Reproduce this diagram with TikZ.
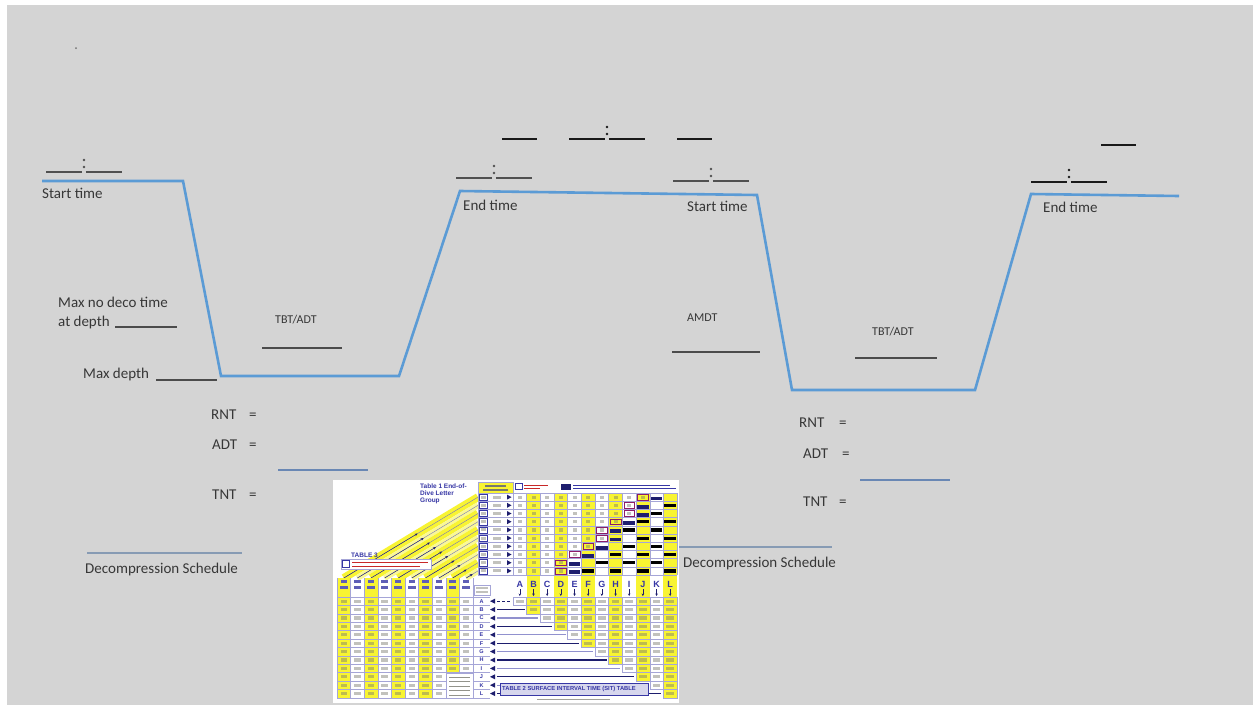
\documentclass[tikz,border=0pt]{standalone}
\usepackage{fontspec}
\setmainfont{Carlito}
\newfontfamily\tabfont{Liberation Sans}
\usetikzlibrary{arrows.meta,calc}
\definecolor{bggrey}{RGB}{212,212,212}
\definecolor{profblue}{RGB}{91,155,213}
\definecolor{txtgrey}{RGB}{55,55,55}
\definecolor{ulgrey}{RGB}{75,75,75}
\definecolor{blueline}{RGB}{105,135,180}
\definecolor{decline}{RGB}{135,155,180}
\definecolor{markgrey}{RGB}{80,80,80}
\definecolor{markdark}{RGB}{25,25,25}
\definecolor{tyellow}{RGB}{248,244,50}
\definecolor{tyellowl}{RGB}{250,248,150}
\definecolor{tnavy}{RGB}{30,30,110}
\definecolor{tblue}{RGB}{55,55,165}
\definecolor{tgrid}{RGB}{165,165,215}
\definecolor{tdigit}{RGB}{120,120,110}
\definecolor{tred}{RGB}{200,40,40}
\tikzset{
  tmark/.pic={
    \draw[line width=2.4pt] (-38,0) -- (-1.8,0);
    \draw[line width=2.4pt] (1.8,0) -- (38,0);
    \fill (0,-12) circle (1.3pt);
    \fill (0,-5) circle (1.3pt);
  }
}
\begin{document}
\begin{tikzpicture}[x=1pt,y=-1pt,
  lbl/.style={anchor=base west,inner sep=0pt,text=txtgrey,font=\fontsize{15}{18}\selectfont},
  slbl/.style={lbl,font=\fontsize{12}{14}\selectfont},
  mlbl/.style={lbl,font=\fontsize{15}{17}\selectfont},
  uline/.style={draw=ulgrey,line width=1.1pt},
  aline/.style={draw=blueline,line width=1.8pt},
  dline/.style={draw=decline,line width=1.6pt},
  profile/.style={draw=profblue,line width=2.6pt,line join=miter},
  tmdark/.style={draw=markdark,line width=1.8pt},
  tgridl/.style={draw=tgrid,line width=0.4pt},
  tlab/.style={inner sep=0pt,text=tblue,font=\tabfont\bfseries\fontsize{6.5}{7}\selectfont},
  dig/.style={fill=tdigit,fill opacity=0.45},
]
% background
\path[use as bounding box] (0,0) rectangle (1253,705);
\fill[white] (0,0) rectangle (1253,705);
\fill[bggrey] (7,5) rectangle (1253,705);
\fill[markgrey!80] (76,48) circle (1pt);

% dive profile
\draw[profile] (42,181) -- (183,181) -- (221,376) -- (399,376) -- (460,191)
  -- (757,195) -- (792,390) -- (975,390) -- (1031,194) -- (1179,196);

% time marks
\pic[color=markgrey] at (84,172) {tmark};
\pic[color=markgrey] at (494,178) {tmark};
\pic[color=markdark] at (607,139) {tmark};
\pic[color=markgrey] at (711,181) {tmark};
\pic[color=markdark] at (1069,182) {tmark};
\draw[tmdark] (502,139) -- (537,139);
\draw[tmdark] (677,139) -- (712,139);
\draw[tmdark] (1101,145) -- (1136,145);

% labels, first dive
\node[lbl] (st1) at (42,198) {Start time};
\node[lbl] (et1) at (463,210) {End time};
\node[lbl] (st2) at (687,211) {Start time};
\node[lbl] (et2) at (1043,212) {End time};
\node[lbl] (mnd) at (58,307) {Max no deco time};
\node[lbl] (atd) at (58,326) {at depth};
\draw[uline] (115,327) -- (177,327);
\node[lbl] (mxd) at (83,378) {Max depth};
\draw[uline] (156,380) -- (217,380);
\node[slbl] (tbt1) at (275,323) {TBT/ADT};
\draw[uline] (262,348) -- (342,348);
\node[mlbl] (rnt1) at (211,419) {RNT};
\node[mlbl] (eqa) at (249,419) {=};
\node[mlbl] (adt1) at (212,449) {ADT};
\node[mlbl] (eqb) at (249,449) {=};
\draw[aline] (278,470) -- (368,470);
\node[mlbl] (tnt1) at (212,499) {TNT};
\node[mlbl] (eqc) at (249,499) {=};
\draw[dline] (87,553) -- (242,553);
\node[lbl] (dec1) at (85,573) {Decompression Schedule};

% labels, second dive
\node[slbl] (amdt) at (687,321) {AMDT};
\draw[uline] (672,352) -- (760,352);
\node[slbl] (tbt2) at (872,335) {TBT/ADT};
\draw[uline] (855,358) -- (937,358);
\node[mlbl] (rnt2) at (799,427) {RNT};
\node[mlbl] (eqd) at (839,427) {=};
\node[mlbl] (adt2) at (803,458) {ADT};
\node[mlbl] (eqe) at (842,458) {=};
\draw[aline] (860,480) -- (950,480);
\node[mlbl] (tnt2) at (803,506) {TNT};
\node[mlbl] (eqf) at (839,506) {=};
\draw[dline] (677,547) -- (832,547);
\node[lbl] (dec2) at (683,567) {Decompression Schedule};

% ================= dive table picture =================
\fill[white] (333,480) rectangle (679,703);

% diagonal bands (Table 3 links)
\foreach \i in {0,...,9}{
  \pgfmathsetmacro\xs{343.8+13.6*\i}
  \pgfmathsetmacro\ye{497.1+8.2*\i}
  \ifodd\i\relax
    \draw[tyellowl,line width=6pt] (\xs,578) -- (478,\ye);
  \else
    \draw[tyellow,line width=8pt] (\xs,578) -- (478,\ye);
  \fi
  \draw[tblue!70,line width=0.4pt] (\xs,578) -- (478,\ye);
  \draw[tnavy,line width=0.4pt,-{Stealth[length=3pt,width=2.5pt]}] (\xs,578) -- ($(\xs,578)!0.55!(478,\ye)$);
}

% Table 1 title
\node[tlab,anchor=north west,align=left] (t1lab) at (420,484) {Table 1 End-of-\\Dive Letter\\Group};
% header + legend
\fill[tyellow] (478,482) rectangle (513,493);
\draw[tgridl] (478,482) rectangle (513,493);
\fill[tdigit] (485,485) rectangle (506,486.5);
\fill[tdigit] (483,489) rectangle (508,490.5);
\draw[tblue,line width=0.6pt] (515,483.5) rectangle (522,489.5);
\draw[tred,line width=0.8pt] (524,485) -- (548,485);
\draw[tred,line width=0.8pt] (524,488.5) -- (540,488.5);
\fill[tnavy] (561,483.5) rectangle (571,489.5);
\draw[tblue,line width=0.7pt] (573,485) -- (670,485);
\draw[tblue,line width=0.7pt] (573,488.5) -- (676,488.5);

% depth column
\foreach \r in {0,...,9}{
  \pgfmathsetmacro\ya{493+8.2*\r}
  \pgfmathsetmacro\yc{\ya+4.1}
  \draw[tgridl] (478,\ya) rectangle (513,\ya+8.2);
  \draw[tblue,line width=0.5pt] (479.5,\ya+1) rectangle (487.5,\ya+7.2);
  \fill[dig] (481,\yc-1.5) rectangle (486,\yc+1.5);
  \fill[dig] (493,\yc-1.5) rectangle (501,\yc+1.5);
  \fill[tnavy] (507,\yc-2.5) -- (511.5,\yc) -- (507,\yc+2.5) -- cycle;
}

% Table 1 body
\foreach \c in {1,3,5,7,9,11}{
  \fill[tyellow] ({513+13.67*\c},493) rectangle ({513+13.67*(\c+1)},575);
}
\foreach \r in {0,...,9}{
  \pgfmathtruncatemacro\cz{round(10-0.7*\r)}
  \pgfmathsetmacro\ya{493+8.2*\r}
  \pgfmathtruncatemacro\czm{\cz-1}
  \foreach \c in {0,...,\czm}{
    \pgfmathsetmacro\xc{513+13.67*(\c+0.5)}
    \fill[dig] (\xc-2,\ya+2.5) rectangle (\xc+2,\ya+5.7);
  }
  \fill[tnavy] ({513+13.67*\cz+1},\ya+3.5) rectangle ({513+13.67*(\cz+1)-1},\ya+7.4);
  \draw[tred!70!blue,line width=0.5pt] ({513+13.67*\czm+1.5},\ya+1.2) rectangle ({513+13.67*\cz-1.5},\ya+7);
  \pgfmathtruncatemacro\czp{\cz+1}
  \ifnum\czp<12
  \foreach \c in {\czp,...,11}{
    \pgfmathtruncatemacro\parity{mod(\c+\r,2)}
    \ifnum\parity=0
      \fill[black] ({513+13.67*\c+1},\ya+2.5) rectangle ({513+13.67*(\c+1)-1},\ya+5.8);
    \fi
  }
  \fi
}
\foreach \r in {0,...,10}{
  \draw[tgridl] (513,{493+8.2*\r}) -- (677,{493+8.2*\r});
}
\foreach \c in {0,...,12}{
  \draw[tgridl] ({513+13.67*\c},493) -- ({513+13.67*\c},575);
}

% letters A-L with arrows
\foreach \L [count=\n from 0] in {A,B,C,D,E,F,G,H,I,J,K,L}{
  \pgfmathsetmacro\xl{513+13.67*\n}
  \pgfmathsetmacro\xc{\xl+6.835}
  \ifodd\n\relax
    \fill[tyellow] (\xl,576) rectangle (\xl+13.67,597);
  \fi
  \node[inner sep=0pt,anchor=base,text=tblue,font=\tabfont\bfseries\fontsize{9}{9}\selectfont] (col\n) at (\xc,587) {\L};
  \draw[tnavy,line width=0.6pt,-{Stealth[length=2.5pt,width=2.5pt]}] (\xc,589) -- (\xc,596);
}

% Table 2 cells (upper-right triangle)
\foreach \c in {0,...,11}{
  \pgfmathsetmacro\xl{513+13.67*\c}
  \foreach \k in {0,...,\c}{
    \pgfmathsetmacro\yt{597+8.4*\k}
    \ifodd\c\relax
      \fill[tyellow] (\xl,\yt) rectangle (\xl+13.67,\yt+8.4);
    \fi
    \draw[tgridl] (\xl,\yt) rectangle (\xl+13.67,\yt+8.4);
    \fill[dig] (\xl+3,\yt+2.6) rectangle (\xl+10.5,\yt+5.8);
  }
}
% Table 2 row lines and arrows
\foreach \k in {0,...,11}{
  \pgfmathsetmacro\yc{601.2+8.4*\k}
  \fill[tnavy] (490,\yc) -- (495,\yc-2.5) -- (495,\yc+2.5) -- cycle;
  \ifnum\k>0
    \ifodd\k\relax
      \draw[tnavy,line width=1.1pt] (497,\yc) -- ({513+13.67*\k-2},\yc);
    \else
      \draw[tblue!55,line width=1.1pt] (497,\yc) -- ({513+13.67*\k-2},\yc);
    \fi
  \fi
}
\draw[tnavy,line width=1pt,dash pattern=on 3pt off 2pt] (497,601.2) -- (511,601.2);
% Table 2 title
\fill[tgrid!45] (500,683) rectangle (648,695);
\draw[tblue,line width=0.6pt] (500,683) rectangle (648,695);
\node[tlab,anchor=west,font=\tabfont\bfseries\fontsize{5.8}{6}\selectfont] (t2lab) at (502,689.3) {TABLE 2 SURFACE INTERVAL TIME (SIT) TABLE};
\draw[tdigit!70,line width=1pt] (537,699.5) -- (610,699.5);

% Table 3 (lower left)
\foreach \i in {0,...,9}{
  \pgfmathsetmacro\xl{337+13.6*\i}
  \ifodd\i\relax\else
    \fill[tyellow] (\xl,578) rectangle (\xl+13.6,698);
  \fi
  \fill[tblue!80] (\xl+3.5,580) rectangle (\xl+10,582.5);
  \fill[tblue!80] (\xl+3,586) rectangle (\xl+10.5,588.5);
  \foreach \k in {0,...,11}{
    \pgfmathsetmacro\yt{597+8.4*\k}
    \fill[dig] (\xl+3.5,\yt+2.6) rectangle (\xl+10,\yt+5.8);
  }
  \draw[tgridl] (\xl,578) -- (\xl,698);
}
\draw[tgridl] (473,578) -- (473,698);
\foreach \k in {0,...,12}{
  \draw[tgridl] (337,{597+8.4*\k}) -- (490,{597+8.4*\k});
}
% blank box with note
\fill[white] (446,673) rectangle (473,698);
\draw[tgridl] (446,673) rectangle (473,698);
\foreach \q in {677,681.5,686,690.5,695}{
  \draw[tdigit!80,line width=0.8pt] (449,\q) -- (470,\q);
}
% letter column
\draw[tgridl] (474,585) rectangle (490,595);
\fill[dig] (476,587) rectangle (488,588.5);
\fill[dig] (476,591) rectangle (488,592.5);
\foreach \L [count=\n from 0] in {A,B,C,D,E,F,G,H,I,J,K,L}{
  \pgfmathsetmacro\yc{601.2+8.4*\n}
  \node[inner sep=0pt,text=tblue,font=\tabfont\bfseries\fontsize{5.5}{6}\selectfont] (grp\n) at (481.5,\yc) {\L};
}
% TABLE 3 label
\node[tlab,anchor=base west] (t3lab) at (351,557) {TABLE 3};
\fill[white] (341,559) rectangle (431,569);
\draw[tgridl] (341,559) rectangle (431,569);
\draw[tblue,line width=0.5pt] (342.5,560.5) rectangle (349,567.5);
\draw[tred,line width=0.7pt] (352,562) -- (428,562);
\draw[tred,line width=0.7pt] (352,566) -- (420,566);
\end{tikzpicture}
\end{document}
